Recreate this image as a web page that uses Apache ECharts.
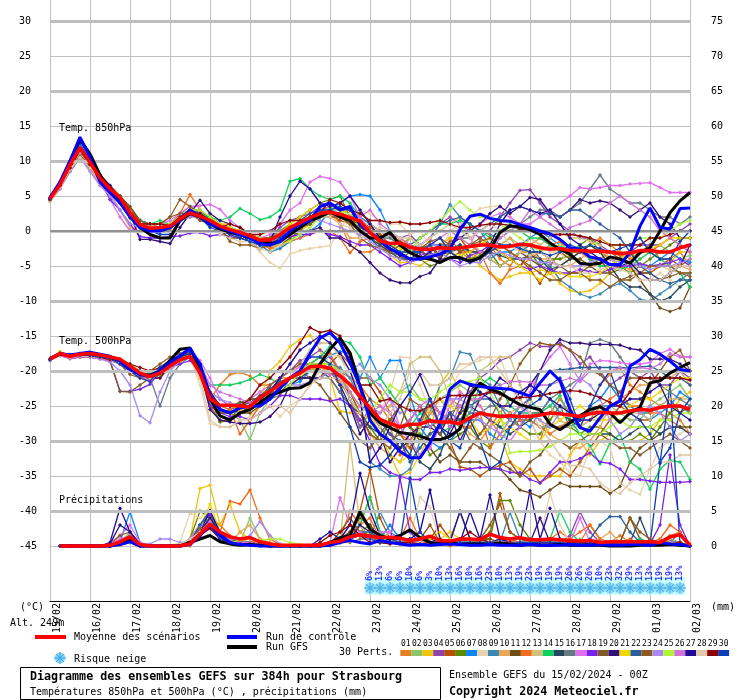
<!DOCTYPE html>
<html><head><meta charset="utf-8">
<style>html,body{margin:0;padding:0;background:#fff}#c{width:740px;height:700px}</style>
<script src="https://cdn.jsdelivr.net/npm/echarts@6/dist/echarts.min.js"></script>
</head><body><div id="c"></div>
<script>
const dayLabels=["15/02","16/02","17/02","18/02","19/02","20/02","21/02","22/02","23/02","24/02","25/02","26/02","27/02","28/02","29/02","01/03","02/03"];
const memberColors=["#e67e22","#8bc46a","#f1c40f","#8e44ad","#b9500a","#5d8a00","#0a84ff","#e8d4ab","#3a88b5","#e8a657","#6b4e16","#f26b1d","#d2c078","#10d060","#27475f","#6a7a85","#e06ff0","#7a20f0","#7f5a28","#32107a","#f2d600","#2a5d99","#8f5a1e","#a78bf0","#aef53a","#d070d8","#1f0a9a","#e0c8a8","#8b0000","#0b3db5"];
const snowPct=[6,13,6,6,10,6,3,10,13,16,10,16,23,10,13,19,23,19,19,19,26,26,26,10,23,32,29,13,13,19,19,13];

const mean850=[4.6,6.6,9.5,11.9,9.8,7.6,6,4.8, 2.6,.9,.4,.5,.7,1.7,2.6,2.1, 1.5,.7,.2,-.2,-.7,-1.3,-1.3,-.5, .5,1.2,1.9,2.5,2.7,2.4,1.9,1.4, -.2,-1.4,-1.8,-1.7,-2.3,-2.6,-2.6,-2.4, -2.5,-2.4,-2.2,-2,-2,-2.3,-2.2,-1.9, -2,-2.4,-2.6,-2.5,-2.8,-2.8,-2.9,-2.9, -3,-3.2,-3.1,-2.8,-2.8,-3,-3,-2.4, -2];
const control850=[4.8,7,10,13.4,10.5,7,5.5,4, 2,.5,0,0,.5,1.5,3,2, 1,.5,0,-.5,-1,-1.8,-2,-1.5, 0,1,1.5,3.5,4,3,3.5,.9, -.2,-1.4,-2.6,-3.2,-4,-4,-3.7,-3.3, -2.6,.2,2.1,2.4,1.8,1.5,1.4,.9, .5,0,-.4,-1.2,-2.4,-2.6,-3.7,-4, -4.8,-4.8,-3.1,.7,3.3,.5,.3,3.2, 3.3];
const gfs850=[4.7,6.8,10,13.1,11,8,6,4.5, 2.5,.5,-.5,-1,-1,1.5,2.5,2, 1,.3,-.2,-.5,-1,-1.5,-1.8,-1.5, -.5,.5,1.5,2,2.8,2,1.5,0, -1,-1,-.2,-2,-3.1,-3.8,-4,-4.5, -3.8,-3.8,-4.3,-3.8,-2.6,-.2,.7,.6, .2,-.5,-1.7,-2.6,-3.3,-4.6,-4.8,-4.6, -3.7,-4,-4.6,-3.1,-2.4,-.01,2.6,4.3, 5.5];
const t850=[
[4.5,6.5,9,11,9.5,7.5,6,4, 1.8,.8,.5,.3,.6,2.5,3.5,2.5, 1.5,.5,0,-.5,-1,-2,-2.5,-1, 0,1,2,3,3,1,-2,-3, -3,-2,-3,-2,-1,-2,-3,-2, -1,-3,-4,-3,-2,-4,-5,-3, -2,-1,-2,-3,-4,-3,-2,-1, -2,-3,-4,-3,-2,-4,-4,-3,-5],
[4.2,6,9,11.3,9.5,7.5,5.5,4.5, 2.5,1.5,1,1,1,2.5,3,2.5, 2,1,.5,0,-.5,-1,-2.5,-2.5, -1.5,0,1,2,3,3,2.5,1, 0,-1,-2,-3,-1,-2,-3,-2, -3,-4,-2,-3,-3,-2,-1,-2, -3,-3,-4,-4,-3,-3,-2,-3, -4,-4,-3,-3,-3,-2,-3,-4,-3.5],
[4.5,6.5,9.5,11.5,10,8,6,4.5, 2.5,1,.5,.5,1,2,2.5,2, 1.5,1,1,.5,-.5,-2,-3,-2.5, -1,0,1,3,3.5,3,2.5,1, -1,-2,-3.5,-4.5,-4.5,-5,-4,-2, -1,-1,-3,-5,-6,-7,-6.5,-6, -6,-5.5,-6,-7.5,-8.5,-8.8,-8.5,-7.5, -6,-5,-5.5,-6,-6,-5,-4.5,-3,-3],
[4.4,6.4,9,11.5,9.5,7.5,6,4.5, 3,1.5,1,1,1,2,3,2.5, 2,.5,0,0,-.5,-1,-1,.5, 1.5,2,2.5,3.5,4,3,3,2, 1,0,-.5,-1,-.5,-2,-1,1, 2,1,0,-1,0,2,4,5.8, 5.9,4,2,1,0,-1,-1,-2, -3,-3.5,-3,-2,-2,-2,-1,0,1],
[4.6,6.5,9.5,11.5,10,8,6.5,5, 3,1,.8,.5,.3,1.5,2.5,2.5, 1.5,1,.5,0,-.5,-1,-1,-.5, .5,1,1.5,2.5,2.5,1.5,1,1.5, .5,-.5,-2,-1.5,-2,-2.5,-4,-3, -1.5,-1,-3,-2,-1,-2,-3,-4, -5.5,-7.5,-5,-3,-4,-3,-2,-3, -3,-4,-5,-6,-6,-5,-4,-5,-4],
[4.3,6.2,9,11,9.5,7.5,5.5,4, 2,.5,.2,.3,.5,2,3,2.5, 2,.5,0,-.5,-1,-1.5,-1,0, 1,2,3,4,4.5,5,2,1, 0,-2,-3,-1,-2,-4,-5,-4.5, -3,-2,-4,-3.5,-3,-5,-4,-3, -3,-5,-4,-4,-3.5,-2,-1,-3, -4,-5,-6,-5,-4,-3,-2,-1,-1],
[4.6,6.8,9.8,12,10,7.5,5.5,4.5, 2.5,.8,.5,.3,1,2,3,3, 1.5,.5,0,-1,-1.5,-2,-3,-2.5, -1.5,-1,0,1,3,4,5,5.2, 5,3,0,-2,-3,-3,-2,-2, -3,-2,-3,-3,-4,-3,-3,-2, -1,0,-1,-2,-3,-3,-4,-5, -5,-4,-3,-5,-5,-4,-3,-4,-4.5],
[4.2,6.2,8.8,10.5,9,7,5.5,4.5, 2.5,1,.5,.5,.5,2,2.5,2, 1,0,-1,-1,-1.5,-3,-4.5,-5.3, -3.3,-2.8,-2.5,-2.3,-2.1,0,2.5,3, 2.5,1.5,1,1,-.5,0,-2,-3, 0,1,2,3.2,3.5,3.6,2,0, -1,-2,-3,-3,-5,-5.5,-5,-5, -4,-5,-5,-6,-7,-6,-7,-8,-7],
[4.4,6.4,9,11,9.5,7.5,6,5, 3,1.5,1,.5,.5,2,2.5,2, 1.5,.5,0,-.5,-1,-1.5,-2,-1, -.5,.5,1.5,2.5,3,2.5,2,2, 1,0,-1,-2,-2.5,-2,-1,1, 3.8,2,1,0,-2,-3,-4,-3, -2,-4,-5,-7,-8,-9,-9.5,-9, -8,-7.5,-8.5,-9.8,-10,-9,-8,-7,-6],
[4.4,6.3,9,11,9,6.5,5.5,3, .5,0,.5,1,1,2,2.5,2, 1.5,.5,.5,0,-.5,-1,-1.5,-1, 0,1,2,2.5,2.5,1,-1,-1, -2,-2.5,-2,-1,-2,-3,-4,-3, -2,-1,-2,-3,-3,-2,-1,-3, -3,-4,-4,-5,-5,-4,-3,-3, -4,-5,-5.5,-4,-3,-4,-5,-5,-5.5],
[4.3,6.3,9,11,9.5,8,6,5, 3.5,1.5,.8,.5,.5,1.5,2,2.5, 2,1,.5,0,-1,-1,-2,-2, -1,0,2,3,3.5,3,1.5,1, 0,-1.5,-2,-3,-3,-2.5,-2,-3.5, -3,-2.5,-2,-3,-4,-5,-4,-3, -4,-5,-6,-5,-4,-4,-5,-6, -6,-5.5,-5,-7,-9,-11,-11.5,-11,-8],
[4.7,6.8,9.5,11.5,9,7.5,6,4.5, 2,1,.8,.5,.5,2.5,5.2,3, 2,1,.5,0,-.5,-1.5,-2.5,-2, -1.5,-1,-.5,0,0,-1,-3.1,-1.5, -1,-2,-3,-3.5,-4.5,-4,-4,-3, -2,-3,-3,-3,-6,-7.5,-5.5,-5, -4,-3,-2,-1.5,-3,-3,-4,-4, -3,-3.5,-3.5,-3,-3,-2,-1,-2,-3],
[4.5,6.2,8.5,10.5,9,7.5,6,4.5, 2.5,1,1,1,1,2,2.5,2, 1.5,.5,0,-.5,-.5,-1,-2,-1, 0,1,2,3,3.5,4,3,1, 1,0,-1,-1,-3,-2,-1,0, 1,2,-1,-3,-4,-5,-4,-3, -1,-2,-1,0,-1,-1,-1.5,-2, -4,-4,-5,-5,-5,-5,-5.5,-6,-6],
[4.5,6.5,9.2,11.3,9.8,7.8,6,4.5, 2.5,1.5,1,1.5,1,2,2.5,2.5, 2,1.5,2,3.2,2.5,1.6,2,3, 7.1,7.5,6,5,4.5,5,4,2, 0,-1,-2,-3,-3,-1,0,1, 1,1.5,1,0,-1,0,1,0, -1,-1,-2,-3,-3,-2,-4,-5, -5,-5.5,-5,-4,-3,-4,-5,-6,-8],
[4.4,6.3,9,11,9.5,7.5,6,4, 2,.5,.5,.5,.5,2,2.5,2, 1,0,0,-.5,-1.5,-2.5,-2,-1, 0,.5,1,2,3,2,1.5,0, -1,-2,-3,-4,-4,-3,-3.5,-3, -2.5,-2,-3,-3,-3,-3.5,-4,-4, -3.5,-4,-5.5,-5,-4,-3,-2,-3, -5,-7,-8,-8,-9,-10,-9.5,-8,-7],
[4.5,6.5,9,11,9.5,7.5,6,4.5, 2.5,1,.5,.5,.5,1.5,2.5,2.5, 1.5,.5,0,-.5,-1,-1.5,-1.5,-1, .5,1,2,3,2.5,2,1,0, -1,-1,-1,-2,-2,-2.5,-3,-2, -2,-1,-1,0,-.5,-1,0,1, 2,3,3,2,3,4,6,8, 6,5,4,4,3,2,2,1,2],
[4.6,6.6,9.5,11.5,9.5,7,4.5,2, 0,.8,1,1,1.5,2.5,3.5,3.6, 3.8,3.1,1.5,.5,-.5,-1,-.5,1, 3,4,7,7.8,7.5,7,5,2, 0,-1,-2,-3,-3,-2,-1,-3, -4,-3,-2,1,2,2.5,2,1, 1,2,3,4,5,6.2,6,6.2, 6.5,6.5,6.7,6.8,6.9,6.2,5.5,5.5,5.5],
[4.5,6.5,9,11.5,9.5,7.5,4.5,3, 1,-.8,-1,-1,-.8,-.7,-.3,-.2, -.7,-.5,-.8,-1,-1.5,-2,-1.5,-1, -.8,-.5,-.5,0,-.5,-.8,-1.5,-2, -2,-3,-4,-5,-4.5,-3.5,-3,-4, -4,-4.5,-3.5,-3,-2,-3,-4,-5, -5.5,-5,-5.5,-6,-6,-5.5,-5.8,-6,-5.5, -5,-5,-4.7,-5,-4.8,-4.5,-4,-5],
[4.5,6.5,9,10.5,9,7.5,6,5, 3,1.5,1,1,2,2.5,2.5,1.5, 1,0,-1,-1,-1.5,-2,-2,-1.5, 0,.5,1,2,2.5,2,2,.5, -.5,-1.5,-3,-4,-3,-2.5,-2,-4, -4,-3,-2,-1,-2,-3,-4,-5, -3,-3,-4,-5,-6,-6,-5,-4, -6,-7,-6.5,-6,-6,-7,-6.5,-6,-6],
[4.6,6.7,9.5,11.8,10,8,6.5,4.5, 2.5,-1.2,-1.2,-1.5,-1.8,.5,2.5,4.4, 2.5,1.5,1,.5,-.5,-1,-1.5,-1, -.5,0,0,.5,-1,-1,-2,-3, -4.5,-6,-7,-7.4,-7.4,-6.5,-6,-4, -2,-1,0,1,2.5,3.5,2.5,3.5, 4.8,4.5,2.5,2,3,4.5,4,4.3, 4,3,2,3,4,2,1,-1,-1],
[4.5,6.3,9,11.2,9.5,7.5,6,4.5, 2.5,1,.5,.5,.5,2,2.5,2, 1.5,1,.5,0,-.5,-1,-1.5,-.5, 1,2,3,4,3.5,3,1,1, 0,-1,-2,-2.5,-3,-4,-3,-2, -3,-3.5,-3,-2,-1,-3,-4,-5, -6,-7,-6,-6,-6.5,-6.5,-6.5,-6, -5,-4,-3,-3,-2.5,-2,-1,-1,-1],
[4.6,6.6,9.5,11.5,9.5,7.5,5.5,4, 2,1,.5,.5,.5,2,3,2.5, 1.5,.5,0,-1,-1.5,-2,-2,-1, .5,1.5,2.5,3,3.5,4,3,1, -1,-2.5,-3,-3.5,-2,-1,0,1, 1.5,2,1,0,1,2,3,3.5, 3,2.5,2.5,2,3,3,2,1, 0,-1,-3,-5,-6,-7,-7.5,-7,-7],
[4.4,6.2,8.5,10.5,9,7.5,6,5, 3,1,1,1,2,4.5,3.5,2.5, 1.5,.5,-1.5,-2,-2,-2.5,-2,-1, 0,.5,1.5,2,2,2,1,-1, -2,-2.5,-3,-2,-2,-2.5,-1.5,-1, -2,-3,-2,-1.5,-1,-2,-3,-4, -5,-6,-7,-7,-6,-6,-7,-7, -8,-7,-7,-6,-5,-5,-5,-6,-6.5],
[4.3,6,8.5,10.5,8.5,6.5,5,3, 1,.5,.5,.5,1,1.5,2,2, 1,.5,0,-.5,-1,-1.5,-1.5,-1, -.5,.5,1.5,1.5,1,.5,0,-.5, -1.5,-2.5,-3.5,-4,-4.5,-4,-3.5,-3, -4,-5,-4.5,-4.5,-3.5,-3,-3.5,-4, -4,-4.5,-4.5,-5,-5,-5,-4.5,-4, -4,-4.5,-4.5,-5,-5.5,-5,-5,-4.5,-4],
[4.5,6.5,9.5,11.5,9.5,7.5,6,4.5, 2.5,1,.5,.5,1,2,3,3, 2,1,.5,0,-.5,-1,-2,-2, -1.5,-.5,.5,2,3.5,3,2,1, 0,-1,-2,-3,-3,-1,0,1.5, 3,4.2,3,2,2,1,0,-1, -2,-3,-2.5,-2,-2.5,-2.5,-2,-1.5, -2,-2,-2,-1,-1,-1,0,1,1.5],
[4.5,6.4,9,11.3,9.5,7.5,6,4.5, 2.5,1,.5,.5,.5,2,2.5,2, 1.5,.5,-.5,-.5,-1,-1.5,-1.5,-.5, 0,1,2,3,3.5,4,3,2, 3,1,0,-1,-2,-3,-2,-1, 0,-1,-2,-3,-3,-1,0,1, 3,2,1,0,.5,1,1.5,3, 4,5,4,3,2,0,-1,-2,-3],
[4.8,7,10,13,10.5,8,6,4.5, 2.5,.8,.3,.3,.5,2,3,2, 1,.2,-.3,-.5,-1,-1.5,-1.5,2, 5,7.1,6,4,3.5,4,5,3, 1,-1,-2.5,-3.5,-4,-4,-3,-2, -3,-4,-4.5,-4,-2,1,3,3.5, 3,2.5,3,1,-1,-2,-3,-4, -5,-5,-4.5,-6,-7,-7,-6,-5,-2],
[4.2,6.2,8.8,10.5,9,7.5,6,4.5, 2.8,1,.8,.5,.5,2,2.5,2, 1,-.5,-1,-1.5,-1.5,-2.5,-3,-2, -.5,.5,1.5,2,2,1,.5,-1, -.5,.5,0,-1,-1,-2,-1,0, 1,0,-1,0,1,0,-2,-3, -3.5,-3,-4,-5,-5,-6,-6,-5.5, -5,-5.5,-6,-7,-7,-7,-6,-5,-5],
[4.5,6.5,9,11.5,9.5,7.5,6,4.5, 2.5,1,1,1,.8,2,2.5,2.5, 1.5,.5,1,.5,-.5,-.5,0,1, 1.5,1.5,2,2.5,4.5,4,3,2.5, 1.5,1.5,1.2,1.3,1,1,1.2,1.5, 1,.5,.5,.8,1,1,.8,.3, 0,-.3,-.5,-.5,-.5,-.7,-1,-1.5, -2,-2,-2,-2,-1,-1,-.5,0,0],
[4.6,6.8,9.8,12.5,10,7.5,5.5,4, 2,.5,0,-.5,-.5,1.5,2.5,2, .5,0,-.5,-1,-1.5,-2,-2,-1, 0,1,2,3,3,3.5,3,1, 0,-1,-2,-3,-3,-3,-2,-1, -3,-4,-4.5,-4,-3,-2,-2,-2.5, -3,-3,-3.5,-3,-2,-2.5,-2,-2.5, -3,-2.5,-2,-1,-3,-4,-4,-1.5,0]
];

const mean500=[-18.3,-17.5,-17.9,-17.6,-17.5,-17.7,-18,-18.3, -19.3,-20.3,-20.8,-20.3,-19.3,-18.4,-17.9,-20.3, -24,-24.9,-24.9,-25,-25.1,-23.8,-22.9,-21.9, -21,-20.3,-19.4,-19.3,-19.6,-20.7,-21.9,-23.6, -25.3,-26.9,-27.5,-28,-27.6,-27.6,-27.1,-27.3, -27.3,-27.5,-26.7,-26,-26.3,-26.5,-26.4,-26.5, -26.5,-26.3,-26,-26.1,-26.3,-26.5,-26.1,-25.9, -26,-26,-25.7,-25.5,-25.6,-25.2,-25,-25,-25.5];
const control500=[-18.2,-17.5,-17.7,-17.5,-17.3,-17.6,-17.9,-18.6, -19.8,-20.5,-20.8,-20,-18.8,-17.8,-16.8,-19, -23.5,-25.5,-26,-25.3,-25,-25,-24,-22.5, -21,-20,-17.5,-15.3,-14.5,-16,-18.8,-22.2, -27,-29,-30,-31.5,-32.4,-32.4,-30.3,-27.4, -22.6,-21.4,-21.9,-22.2,-22.4,-22.5,-22.6,-23.1, -23.6,-21.7,-20,-21.4,-25.5,-28.1,-28.6,-26.7, -25,-24.3,-19.3,-18.4,-16.9,-17.6,-18.6,-19.8, -20];
const gfs500=[-18.2,-17.6,-17.8,-17.6,-17.4,-17.7,-18,-18.4, -19.5,-20.5,-20.6,-20,-18.5,-16.9,-16.7,-19.5, -24,-26.4,-27,-26,-25.5,-24.5,-23.5,-23, -22.5,-22.4,-21.7,-19,-16.9,-15.3,-17.4,-22.2, -26,-27.4,-28.1,-28.8,-29,-29.3,-29.8,-29.8, -29.3,-28.3,-23.6,-21.7,-22.6,-23.1,-24,-24.8, -25.2,-25.5,-27.6,-28.4,-27.4,-26.4,-25.5,-25.1, -26,-27.4,-26,-25.2,-21.7,-21.4,-20.3,-19.5, -18.8];
const t500=[
[-18.4,-17.6,-18,-17.6,-17.8,-17.9,-18.2,-18.5, -19,-20,-21,-21,-19.5,-18.5,-18,-21, -24,-22,-20.5,-20.2,-20.7,-22,-22,-21, -21,-20.5,-20,-20,-19.5,-20,-21,-22, -24,-25,-27,-29,-30,-28,-26,-27, -24,-25,-27,-30,-28,-26,-24,-25, -27,-30,-26,-24,-26,-28,-25,-22, -20.5,-19.5,-22,-23,-24,-25,-26,-27,-29],
[-18.3,-17.5,-17.8,-17.7,-17.7,-17.8,-18,-18.2, -19,-20,-20.5,-20,-19,-18,-17.8,-20, -24,-26,-26,-27,-29.8,-26,-24,-23, -22,-20,-19,-20,-20,-21,-22,-24, -27,-26,-25,-23,-22,-24,-25,-24, -23,-22,-23,-25,-27,-28,-27,-25, -24,-26,-25,-27,-28,-27,-26,-25, -25,-26,-27,-27,-25,-24,-23,-22,-24],
[-18.3,-17.2,-17.9,-17.8,-17.6,-17.9,-18.2,-18.6, -19.5,-20.5,-21,-20.5,-19,-18.5,-18,-19.5, -24,-25,-25,-26,-25,-24,-20,-18.6, -16.5,-15.5,-14.9,-17,-21,-25.7,-26,-25, -26,-29,-32,-35,-34.5,-32,-29,-22, -20,-23,-24,-25,-27,-29,-33,-34, -35,-35,-35,-35,-32,-30,-32,-30, -29,-30,-30,-30,-29,-27,-26,-24,-23],
[-18.4,-17.8,-18,-17.7,-17.8,-18,-18.3,-18.6, -19.5,-20,-20.5,-20,-19,-18,-17.5,-19, -23,-25,-25.5,-25,-25,-24,-23,-21, -20,-18.5,-18,-17,-18,-20,-24,-28, -25,-27,-29,-31,-30,-28,-24,-26, -27,-24,-23,-21,-20,-18.5,-18,-17, -16,-16.5,-16.5,-16,-17,-19,-18,-20, -22,-21,-20,-21,-20,-22,-22,-20,-21],
[-18.3,-17.7,-17.9,-17.7,-18,-18.2,-18.3,-19, -20,-21,-21.5,-20,-19,-18.5,-18,-20, -25,-27.2,-27,-26,-25,-24,-23,-22, -21,-20,-21,-21,-19,-17.5,-19,-21, -21,-23,-26,-29,-31,-28,-25,-28, -30,-33.7,-34,-35,-34,-33.5,-33,-35, -34,-36,-35,-34,-35,-33,-31,-29, -27,-25,-26,-27,-27,-25,-24,-26,-25],
[-18.5,-17.6,-18,-17.8,-17.9,-18,-18.4,-18.6, -20,-20.5,-21.5,-20.5,-19.5,-18.5,-18,-19.5, -24,-27.3,-27,-25,-24,-24,-24,-23.5, -21,-20,-19,-18,-19,-21,-24,-27, -28,-30,-27,-25,-28,-29,-32,-31, -30,-29,-28,-30,-31,-27,-26,-28, -29,-29,-27,-25,-28,-29,-28,-28, -29,-30,-30,-29,-30,-28,-26,-25,-26],
[-18.3,-17.5,-17.7,-17.6,-17.7,-17.8,-18.2,-18.5, -19.5,-20.5,-20.5,-19.5,-18.5,-17.8,-17.3,-19.5, -23,-24,-25,-25,-25,-24,-23,-23, -22,-21.5,-20,-19,-17.8,-17.2,-17.5,-21, -18,-21,-18.5,-18.5,-23.5,-28,-30,-31, -30,-28,-27,-27,-29,-30,-28,-27, -28,-26,-24,-26,-27,-27,-25,-24, -22,-24,-25,-26,-27,-26,-25,-23,-24],
[-18.4,-17.6,-18.1,-17.9,-18,-18.2,-18.5,-19, -20,-21,-21,-20,-19,-18.5,-18,-22, -27.5,-27.9,-28,-27,-26.5,-25,-25,-26.5, -25,-24,-22,-20,-17.7,-18,-21,-24, -27,-26,-23,-18,-18.1,-22,-26,-27, -23,-20,-19,-18.5,-18,-18,-22,-25, -27,-30,-32,-33,-34.5,-35,-31,-30, -31,-36,-37,-37.6,-34,-31,-30,-29,-28],
[-18.3,-17.6,-17.9,-17.7,-17.8,-17.9,-18.2,-18.5, -19.5,-20.5,-20.5,-20,-19,-18,-17.5,-19.5, -24,-25,-25,-25.5,-25,-24,-22.5,-22, -21,-20.5,-19.5,-19,-19,-19.5,-21,-24, -33,-34,-35,-35,-34,-30,-26,-22, -21,-17.3,-17.6,-21,-22,-25,-26,-27, -27,-28,-28,-28,-28,-27,-26,-25, -25,-24,-25,-26,-26,-25,-25,-25,-26],
[-18.4,-17.7,-18,-17.6,-17.8,-18,-18.3,-18.6, -19.5,-20,-20.5,-20,-19,-18.5,-18,-20, -24,-25,-25,-25,-24.5,-24,-23,-22, -21,-20.5,-20,-19.5,-20,-21.5,-24,-27, -29,-31,-32,-33,-30,-28,-26,-24, -26,-27,-29,-30,-28,-27,-26,-25, -26,-27,-29,-30,-31,-31,-30,-28, -25,-24,-23,-22,-22,-21,-21,-20,-22],
[-18.3,-17.6,-18,-17.8,-17.8,-18,-18.4,-18.8, -20,-21,-21,-20,-19,-18,-17.5,-20, -25,-26,-25.5,-26,-26,-25,-24,-22, -21,-20,-20,-19,-19,-20,-23,-26, -29,-30,-30,-31,-30,-30,-31,-33, -32,-33,-33,-33,-34,-34,-35.5,-37, -37.4,-38,-37,-36,-36.5,-36.5,-36.5,-36.5, -37.5,-36.5,-33,-31,-30,-29,-28,-28,-28],
[-18.3,-17.6,-17.8,-17.6,-17.8,-17.9,-18.2,-18.6, -19.5,-20.5,-21,-21,-19.5,-18.5,-18,-20, -24,-25,-25.5,-29,-27,-25,-23,-22, -21,-20,-19,-18,-17.5,-20,-22,-24, -25,-27,-28,-32,-30,-27,-25,-26, -27,-28,-28,-26,-31,-29,-28,-27, -27,-28,-29,-28,-27,-28,-27,-25, -24,-23,-25,-25,-26,-26,-27,-28,-29],
[-18.4,-17.5,-17.8,-17.7,-17.9,-18,-18.2,-18.7, -20,-21,-21.5,-20,-19,-18.5,-18,-19.5, -23.5,-25,-25,-25,-24,-23,-23,-22, -21,-19,-17,-16,-16,-18,-20,-23, -26,-26,-25,-23,-19,-18,-18,-20, -24,-26,-24,-20,-19,-18,-18,-22, -25,-26,-26,-27,-28,-28,-27,-27, -26,-26,-26,-26,-27,-25,-24,-24,-24],
[-18.4,-17.5,-17.9,-17.8,-17.8,-18,-18.3,-18.6, -19.5,-20,-20.5,-20,-19,-18,-17.8,-19.5, -22,-22,-22,-21.7,-21.2,-20.5,-21,-22, -21,-20,-19,-18,-16.5,-15.5,-16,-18, -22,-21,-23,-25,-28,-26,-27,-29, -28,-27.5,-26,-22,-21,-22,-25,-26, -26,-26,-25,-23.5,-27,-29,-30.7,-33.3, -30.3,-29,-33,-34,-36.9,-34,-32.8,-33,-35.5],
[-18.3,-17.6,-18,-17.7,-17.8,-18,-18.3,-18.5, -19.5,-20.5,-20.8,-20.3,-19.5,-18.5,-18,-20, -24,-25,-25,-24.5,-24.5,-24,-23,-22, -21,-21,-20,-20,-21,-23,-25,-26, -28,-29,-30,-31,-30,-33,-34,-32, -28,-26,-25,-26,-27,-28,-29,-28, -27,-26,-26,-26,-27,-28,-29,-29, -29,-30,-29,-28,-28,-29,-28,-28,-29],
[-18.4,-17.7,-18,-17.8,-18,-18.2,-18.4,-18.8, -20,-20.5,-21,-25,-21,-19,-18,-20, -24,-25,-25,-25,-25,-24,-23,-21.5, -21,-21,-21,-21,-21,-23,-25,-28, -26,-28,-30,-29,-27,-25,-28,-27, -26,-25,-26,-26,-25,-25,-27,-28, -26,-26,-24,-23,-22,-21,-16,-15.5, -16,-18,-20,-21,-21,-22,-23,-24,-25],
[-18.4,-17.5,-17.8,-17.6,-17.7,-17.9,-18.3,-19, -20,-21,-21.5,-20,-19,-18,-17.5,-18.5, -21,-24,-25,-25.5,-24,-23,-22,-21, -20,-19.5,-19,-19,-19.5,-20,-22,-24, -25,-26,-24,-28,-30,-32,-31,-28, -25,-23,-24,-25,-27,-29,-30,-28, -23,-20,-18,-16.5,-19,-21.5,-19,-18.5, -18.6,-18.8,-19,-19,-18.8,-17.5,-16.9,-17.9,-18],
[-18.4,-17.7,-18.2,-18,-18,-18.2,-18.6,-22.9, -22.9,-22.6,-21.9,-20,-19.5,-19,-18.5,-20, -25,-26,-26.5,-26.5,-27,-26,-25,-23.5, -23.5,-24,-24,-24,-24.3,-24,-25,-27, -30,-33.3,-34.5,-35,-35.5,-35.5,-34.5,-34.5, -34,-34.2,-34,-33.8,-33.8,-34,-34.5,-34.5, -35.5,-36,-34.5,-33,-33,-32.5,-31.7,-33, -33.2,-34,-35.5,-35.5,-35.7,-35.9,-35.9,-35.9,-35.8],
[-18.3,-17.8,-18.2,-18,-18,-18.2,-18.5,-22.9, -23,-22,-21,-20,-19,-18.5,-18,-20, -24,-25,-25,-24.5,-24,-24,-23,-23, -22,-21,-21,-22,-24,-26,-28,-30, -31,-29,-27,-25,-28,-30,-29,-28, -27,-27,-30,-31,-32,-33,-34,-35, -33,-32,-30,-30,-31,-30,-29,-29, -30,-31,-31,-32,-31,-30,-29,-30,-31],
[-18.4,-17.6,-17.9,-17.7,-17.8,-17.9,-18.2,-18.5, -19.5,-20.5,-21,-21,-19,-18.5,-18,-20, -25.5,-27,-27.3,-27.5,-27.5,-27.3,-26.5,-25, -22,-21,-21,-21,-20,-22,-25,-29, -27,-29,-33,-31,-29,-28,-28,-29, -26,-30,-27,-24,-23,-21,-22,-24, -22,-20,-17,-15.5,-16,-16,-16.2,-16.2, -16.2,-16.3,-16.8,-17,-18.3,-18.3,-18.3,-19,-20],
[-18.3,-17.5,-17.8,-17.6,-17.8,-18,-18.3,-18.6, -19.5,-20.5,-20.8,-20,-19,-18,-17.8,-20, -24,-25,-25,-25.5,-25,-24,-23,-22, -21,-20.5,-20,-19,-19,-21,-23,-26, -27,-29,-32,-33,-32,-28,-25,-24, -25,-26,-27,-29,-28,-27,-28,-29, -30,-30,-28,-27,-26,-25,-26,-27, -27,-26,-25,-24,-24,-23,-22,-21,-21],
[-18.3,-17.7,-18,-17.8,-17.8,-18,-18.2,-18.6, -19.5,-20,-20.5,-20,-19,-18.5,-18,-20, -24,-25,-25,-25,-24.5,-23.5,-22.5,-21.5, -21,-20,-20,-20,-20,-21,-24,-26, -24,-27,-29,-30,-33,-31,-29,-28, -26,-27,-25,-24,-24,-26,-27,-25, -24,-20,-20,-19.8,-19.7,-19.5,-19.5,-19.5, -19.5,-19.5,-19.6,-19.4,-19.3,-20,-21,-21,-22],
[-18.4,-17.5,-17.8,-17.6,-17.7,-18,-18.5,-19, -20.5,-21,-20,-19,-18,-17.5,-17.5,-19.5, -24,-26,-26,-25,-24.5,-24,-22,-21, -20,-19,-19,-19,-20,-22,-23,-26, -29,-30,-31,-28,-24,-25,-27,-29, -31,-33,-31,-29,-27,-24,-22,-19, -17,-16,-16.3,-16.2,-17,-18,-20,-20.5, -22,-23,-21,-21,-22,-20,-18,-17,-20],
[-18.5,-17.6,-18,-17.8,-18,-18.3,-18.7,-20, -22,-26.4,-27.4,-23,-20,-18.5,-18,-20, -23,-24,-24.5,-25,-25,-24,-23,-22, -22,-22,-21.5,-21,-20,-20,-20,-19, -21,-22,-24,-26,-25.5,-27,-28,-26, -24,-24,-25,-27,-28,-29,-27,-25, -26,-27,-28,-26,-23,-21,-22,-24, -27,-29,-28,-26,-25,-26,-28,-30,-29],
[-18.3,-17.6,-18,-17.8,-17.8,-18,-18.3,-18.7, -19.5,-20.5,-21,-20,-19,-18.5,-18,-20, -24,-25,-25,-25,-25,-24.5,-24,-23, -22,-20,-19,-19,-19,-20,-23,-25, -26,-24,-22,-23,-23,-24,-24,-23, -22,-21.5,-21.5,-21,-23,-26,-31.7,-31.5, -31.5,-31.3,-30.8,-30,-29,-29,-29,-29, -28,-27,-28,-28,-28,-27,-27,-26,-26],
[-18.4,-17.8,-18.2,-18,-18,-18.2,-18.5,-19, -19.5,-20.5,-21.5,-20,-19,-18,-17.5,-19, -22,-23,-23.5,-24,-24.5,-24,-23,-22, -21,-20,-20,-20,-20.5,-21,-23,-25, -26,-25,-26,-28,-27,-25,-24,-26, -28,-25,-24,-24,-22.5,-22,-21.5,-21.5, -21.6,-22,-22,-21.5,-21,-21.5,-20,-20,-20, -19.5,-20,-19.5,-19.7,-19,-17.5,-18,-18],
[-18.3,-17.5,-17.7,-17.5,-17.6,-17.8,-18.2,-18.5, -20,-20.5,-21,-20,-19,-18,-17,-19, -24,-25,-25,-25,-25,-24,-23,-21, -19,-17,-16,-15,-16,-17.5,-20,-24, -33,-31,-28,-25,-23,-20.5,-24,-28, -29,-26,-22,-23,-24,-25,-25,-23, -22,-23,-24,-25,-26,-27,-27,-26, -25,-25,-24,-24,-23,-22,-25,-26,-27],
[-18.3,-17.7,-18,-17.8,-17.9,-18,-18.4,-18.8, -20,-20.5,-21,-20,-19.5,-18.5,-18,-21, -27,-28,-28,-27,-27,-26,-25,-25, -26,-24,-22,-21,-21,-21,-24,-26, -25,-28,-26,-24,-20,-20,-22,-22, -21,-19,-19,-18,-18,-20,-22,-24, -26,-28,-30,-32,-33.5,-33.5,-34,-36, -37,-37.5,-36,-35,-34,-33,-33,-32,-32],
[-18.3,-17.6,-17.9,-17.7,-17.8,-18,-18.4,-18.6, -19,-19.5,-20,-19.5,-18.5,-18,-17.5,-19, -23,-25,-25,-25,-24,-22,-21,-19.5, -18,-16,-13.8,-14.5,-14.2,-15,-18,-22, -22,-24.3,-24,-25,-25.6,-25.7,-25,-24, -23.5,-23.5,-23.5,-23.4,-23,-23.3,-24,-23.8, -23.7,-23.5,-23.2,-23,-22.8,-22.9,-23.3,-23.8, -24.5,-25,-23,-21,-21,-21,-21,-21,-21.3],
[-18.4,-17.5,-17.7,-17.6,-17.8,-18,-18.2,-19, -20,-21,-21.5,-19.5,-18.5,-18,-17.5,-19, -24,-25.5,-26,-25,-25,-24,-23,-22, -21,-20,-18,-18,-19,-22,-28,-33, -33.8,-33.5,-32,-30,-32,-27,-24,-28, -30,-31,-27,-30,-34,-33,-28,-26, -25,-24,-22,-21,-24,-28,-25,-22, -20,-24,-26,-27,-29,-33,-31,-26,-24]
];

const meanPrecip=[null,0,0,0,0,0,.1,.6, 1.3,.2,0,0,0,0,.3,1.7, 3.1,2,1.3,1,1.2,.6,.3,.1, .1,.1,.1,.1,.5,.7,1.3,1.6, 1.4,1.2,1.2,1.1,.8,1,1.4,.8, .7,1,1,.9,1.7,1.2,1,1.2, .9,.9,1,.9,.8,.7,.8,.5, .6,.6,.6,.6,.6,.5,1.3,1.6,.15];
const controlPrecip=[null,0,0,0,0,0,0,.2, .6,0,0,0,0,0,.2,1.5, 3,1.5,.5,.2,.1,0,0,0, 0,0,0,0,.1,.5,.8,.5, .3,.8,.5,.3,.1,.2,.1,.2, .3,.2,.1,.1,.2,.1,.1,.1, .2,.1,.1,.1,.2,.1,.1,.2, .1,.1,.2,.2,.1,.5,.3,.2, 0];
const gfsPrecip=[null,0,0,0,0,0,0,.3, .8,0,0,0,0,0,.5,1, 1.5,.6,.3,.1,.2,.1,0,0, 0,0,0,0,.5,1.2,1.5,4.9, 2.4,1.5,1,1.5,2.3,1.2,.5,.3, .5,.2,.3,.3,.2,.4,.2,.1, .2,.1,.1,.2,.1,.1,.1,.1, 0,0,0,.1,.1,.1,.2,.1, 0];
const precip=[
[null,0,0,0,0,0,0,.3, 1.5,.2,0,0,0,0,0,2, 4,3,1.5,1,.5,1,.5,0, 0,0,0,0,.5,1,1,3, 7,2,1,.5,1,.5,.5,.5, 0,.5,.5,1,1,.5,1,.5, .5,.3,1,2,1,.5,3,1, .5,1.5,.5,.5,.5,.5,1.5,2,.2],
[null,0,0,0,0,0,.1,.5, 2,.3,0,0,0,0,.5,3, 5,2,.5,.5,4,1,.3,0, 0,0,0,0,.2,.5,1,2, 1,1,.5,.5,.5,.5,.3,.5, .5,.5,.5,.3,.5,.5,.5,.3, .5,.5,.5,.5,.3,1,.5,.5, .5,.3,.5,.5,.5,1,.5,.5,0],
[null,0,0,0,0,0,0,.1, .8,0,0,0,0,0,1,8.2, 8.7,3,6,2,1,.5,0,0, 0,0,0,0,0,.5,.5,1, 2,.5,.5,.2,.5,1,.5,1, 2,1,.5,.5,.3,.5,.3,.3, .5,.2,.5,.5,.3,.5,.5,.3, .5,.3,.3,.5,.2,.5,.5,.3,0],
[null,0,0,0,0,0,0,.5, 1,.2,0,0,0,0,.5,2, 3,1.5,1,.5,.5,.3,0,0, 0,0,0,0,.3,1,2,3, 1,.5,.5,.3,.5,.5,.3,.5, .5,1,.5,.5,.3,1,.5,.3, 1,.5,1,.5,1.5,4.9,2,.5, .5,.3,.5,.5,.3,.5,.5,2,0],
[null,0,0,0,0,0,.1,.8, 1.5,.3,0,0,0,0,1,3, 4,2,1,.5,.3,.3,0,0, 0,0,0,0,.5,1,2,5, 10.9,4,1,.5,.5,.5,1,3, 1,.5,.5,.5,1,7.5,2,1, .5,.5,.3,.5,.5,.3,.5,.3, .5,.5,.5,.3,.5,.5,.3,.5,0],
[null,0,0,0,0,0,0,.3, .7,0,0,0,0,0,1,5, 4,2,.5,.3,.3,.3,0,0, 0,0,0,0,.2,1,1,2, 3,1,.5,.3,.5,.5,.3,.3, .5,.5,.5,.5,2,6.5,6.5,3, 1,.5,.5,.3,.5,.5,.5,.3, .5,.5,.3,.3,.5,.5,.3,.3,0],
[null,0,0,0,0,0,.1,.6, 4.9,.5,0,0,0,0,.2,2, 3,1,.5,.3,.2,.1,0,0, 0,0,0,0,.2,.5,1.5,2, 1,1,3,1,.5,.3,.5,.3, .3,.5,.5,.5,.5,1,.5,.5, .3,.5,.3,.5,.3,.5,.5,.3, .3,.5,.3,.3,.3,.5,1,.5,0],
[null,0,0,0,0,0,0,.2, .5,0,0,0,0,.5,4.7,4, 5,1.5,1,.5,.3,.1,0,0, 0,0,0,0,0,.5,1,2, 2,1,1,.5,1,7,5.5,.5, .3,.5,.5,.5,.5,.5,.5,.5, .5,1,7.5,3,.5,.5,.3,.3, .5,.3,.5,.5,.3,.5,.3,.5,0],
[null,0,0,0,0,0,0,.5, 1,.2,0,0,0,0,1,3, 5,1.5,1,.5,.5,.2,0,0, 0,0,0,0,.3,.8,2,3, 1,4.9,2,1,.5,.5,.3,.3, 1,4.8,1,.5,.5,.5,4.8,1, .5,.5,.5,.3,.5,.5,.5,.3, .5,.5,.3,.5,.3,.5,.5,.3,0],
[null,0,0,0,0,0,0,.3, 1,.1,0,0,0,0,.5,2, 4,2,.5,2,3,1,.2,0, 0,0,0,0,.2,.5,1.5,3, 1,1,2,.5,1,.5,.5,.5, .5,.5,.5,.5,.5,.5,.5,.5, .3,.5,.5,.3,.5,.5,.5,1, 2,.5,.5,.5,.5,.3,1,.5,0],
[null,0,0,0,0,0,.1,.5, 1.5,.2,0,0,0,0,.3,2, 3,1.5,1,.5,.5,.2,0,0, 0,0,0,0,.5,1,2,4, 3,1,.5,.5,.5,.5,.5,.5, .5,.5,.5,1,1,.5,.5,.5, .5,.5,.5,.5,.5,.3,.5,.5, .5,.5,4,1,.5,.5,.5,.3,0],
[null,0,0,0,0,0,0,.1, .5,0,0,0,0,0,.2,2, 4,2,6.4,6,8,4,1,.2, 0,0,0,0,.3,1,5,3, 4,1,.5,1,4,1,.5,.5, .5,.5,1,.5,.5,1,1,.5, .5,.5,.5,.5,1,2,3,1, .5,.5,1,.5,.5,1,3,2,0],
[null,0,0,0,0,0,0,.2, .6,0,0,0,0,.3,1,3, 5,1,.5,.3,.5,0,0,0, 0,0,0,0,0,.5,14.7,3, 1,.5,.5,.3,.5,.5,.3,.3, .5,.5,.3,.5,.5,.3,.5,.3, .5,.5,.3,.5,.5,.5,.5,.3, .5,.5,.5,.3,.5,.5,.5,.3,0],
[null,0,0,0,0,0,.1,.4, 1,.1,0,0,0,0,1,3, 4,1,.5,.5,.2,.3,.3,.2, 0,0,0,0,.2,1,1,3, 7,2,.5,1,1,.5,.5,.3, .3,.5,.5,.5,.5,1,1,1, .5,.5,1,5,2,.5,.5,.5, .5,.3,.5,1,.5,.5,.5,.5,0],
[null,0,0,0,0,0,0,.3, 1,.2,0,0,0,0,.5,2, 3,1,.5,.3,.3,.2,0,0, 0,0,0,0,.3,.5,1,2, 1.5,1,.5,.5,.5,.5,.5,.5, .5,.5,.5,.5,.5,.5,.5,.5, .5,.5,.5,.5,.5,.3,.5,.5, .5,.5,.5,4,.5,.5,.5,.5,0],
[null,0,0,0,0,0,0,.3, .8,.1,0,0,0,0,1,2, 4,2,.5,.5,.3,.1,0,0, 0,0,0,0,.3,1,.5,1, 1,.5,.5,.3,.5,.3,.5,.3, .3,.5,.3,.5,.5,.3,.3,.5, .3,.5,.3,.5,.3,.5,.5,.3, .5,.5,.3,.5,.3,.5,.3,.5,0],
[null,0,0,0,0,0,.5,1.5, 3,.5,0,0,0,0,1,3, 5,1.5,1,.5,.5,.2,0,0, 0,0,0,0,.5,6.9,3,2, 1,2,2,.5,.5,.5,.5,.5, .5,.5,.5,.5,.5,.5,.5,.5, .5,.5,.5,.5,.5,4,.5,.5, .5,.5,.5,.5,.5,.5,.5,.5,0],
[null,0,0,0,0,0,0,.2, .5,0,0,0,0,0,.3,3, 4.5,1,.5,.3,.2,.1,0,0, 0,0,0,0,.1,.5,1,2, 1,.5,.5,9.7,2,.5,.5,.5, .5,.5,.5,.3,.5,.5,.3,.5, .5,.5,.3,.5,.5,.3,.5,.5, .5,.3,.5,.5,.3,3,13,3,0],
[null,0,0,0,0,0,.1,.6, 1.2,.1,0,0,0,0,.5,2, 3.5,1.5,.5,.5,.5,.2,0,0, 0,0,0,0,.3,1,1.5,2, 1,.5,.5,.5,.5,.3,.5,.5, .5,1,.5,.3,.5,.5,.5,.5, .3,.5,.5,.5,.3,.5,.5,.5, .5,.3,.5,.5,.5,.3,.5,.5,0],
[null,0,0,0,0,0,.3,3, 2,.3,0,0,0,0,.5,2, 4,2,.5,.3,.3,.1,0,0, 0,0,0,0,.3,1,1,3, 2,1,.5,.5,.3,.5,1,.5, .5,5,1,.5,.5,1,.5,.5, .5,4,.5,.5,.5,.5,.5,.3, .5,.3,.5,.5,.3,.5,.3,.3,0],
[null,0,0,0,0,0,0,.2, .5,0,0,0,0,0,.3,2.5, 6,2,1,.5,.3,.1,0,0, 0,0,0,0,.2,.5,1,2, 1,.5,.5,.3,.5,.5,1,2, 1,.5,.5,.5,.5,.5,.5,.5, .5,.5,.5,.5,.3,.5,.5,.3, .5,.3,.5,.3,.5,.5,.5,.3,0],
[null,0,0,0,0,0,0,.4, 1,.2,0,0,0,0,.5,3, 5,1.5,1,.5,.5,.2,0,0, 0,0,0,0,.3,.8,1,2, 2,1,.5,.5,1,.5,.5,.5, .5,.5,.5,.5,.5,.5,.5,.5, .5,.5,.5,.5,.5,.5,1,3, 4.2,4.2,2,.5,.5,.5,.5,.5,0],
[null,0,0,0,0,0,.2,1.5, 2,.3,0,0,0,0,.5,2.5, 3,1,.5,.3,.5,.2,0,0, 0,0,0,0,.3,2,4,2, 1,1,.5,.5,.5,1,3,.5, .5,.5,.5,1,3,6,2,1, .5,.5,.5,.5,.5,.5,.5,.3, .5,.5,4,2,1,.5,.5,.5,0],
[null,0,0,0,0,0,.2,.6, 1,.4,.3,1,1,.5,.5,2, 3,1.5,1,1,1.5,3.5,1.5,.3, 0,0,0,0,.2,.5,1,2, 1,.5,.5,.5,.5,.5,.5,.5, .5,.5,.5,.5,.5,.5,.5,.5, .5,.5,.5,.5,.5,.5,.5,.5, .3,.5,.5,.5,.5,.5,.5,.5,0],
[null,0,0,0,0,0,.1,.3, .5,.2,0,0,0,.1,.5,1.5, 3,1,.5,.8,1,.8,1,1, .5,.2,0,0,.2,.5,1,1.5, 1,.5,.5,.5,.5,.5,.3,.5, .5,.5,.5,.5,.5,.5,.5,.5, .5,.5,.5,.5,.5,.5,.5,.5, .5,.5,.5,.5,.5,.5,.5,.5,0],
[null,0,0,0,0,0,.3,1, 1.5,.2,0,0,0,0,.5,2, 3.5,1,.5,.5,.5,.2,0,0, 0,0,0,0,.3,.8,1,2, 1,.5,.5,.5,.5,.5,.5,.5, .5,.5,.5,.5,.5,.5,.5,.5, .5,.5,.5,.5,.5,.5,.5,.5, .5,.5,.5,.5,.5,.5,.5,.5,0],
[null,0,0,0,0,0,.5,5.4, 2,.2,0,0,0,0,.5,2, 5,2,.5,.3,.3,.1,0,0, 0,0,0,1,2,1,3,10.4, 5,1.5,1,1,1,2,8,1, .5,.5,4.9,1,7.3,1,.5,.5, 7.9,1,5.4,1,.5,.5,.5,.3, .5,.5,.5,.5,.5,.5,.5,.5,0],
[null,0,0,0,0,0,0,.2, .6,0,0,0,0,.2,1,2, 3,1,.5,.3,.3,.1,0,0, 0,0,0,0,.2,.5,1,1.5, 1,.5,.5,.5,.5,.5,.5,.5, .5,.5,.5,.5,.5,.5,.5,.5, .5,.5,.5,.5,.5,.5,.5,.5, .5,.5,.5,.5,.5,.5,.5,.5,0],
[null,0,0,0,0,0,0,.3, .8,.1,0,0,0,0,.5,1.5, 2.5,1,.5,.3,.3,.1,0,0, 0,0,0,.5,1.5,2,3,1.5, .5,.5,.3,.5,.5,.3,.5,.5, .5,1,2,1,.5,.5,.5,.3, .3,.5,.5,.3,.5,.5,.3,.5, .3,.5,.5,.3,.5,.5,.3,.5,0],
[null,0,0,0,0,0,0,.2, .8,.1,0,0,0,0,.3,1.5, 3,1,.5,.3,.2,.1,0,0, 0,0,0,0,.2,.5,1,1.5, 1,.5,1,.5,9.7,2,.5,.3, .5,.5,.5,.5,.5,.5,.3,.5, .5,.5,.5,.5,.3,.5,.5,.5, .5,.3,.5,.3,.2,11.8,23,.1,0]
];

const FONT='"DejaVu Sans Mono"';
const FLAKE='path://M11 0h2v24h-2z M0 11h24v2H0z M3 4.4 L4.4 3 L21 19.6 L19.6 21z M19.6 3 L21 4.4 L4.4 21 L3 19.6z';
const slotLabels=Array.from({length:65},(_,i)=>i%4===0?dayLabels[i/4]:'');

function lineSeries(name,values,yAxisIndex,color,width,z,marker){
  return {name,type:'line',xAxisIndex:1,yAxisIndex,data:values,z,clip:false,animation:false,silent:true,
    symbol:marker?'diamond':'none',symbolSize:marker?4:0,showSymbol:!!marker,
    lineStyle:{color,width},itemStyle:{color},connectNulls:false,legendHoverLink:false};
}
const series=[];
series.push({type:'line',xAxisIndex:1,yAxisIndex:1,data:[],z:1,silent:true,animation:false,
  markLine:{silent:true,symbol:'none',animation:false,label:{show:false},
    data:[...[-40,-30,-20,-10,10,20,30].map(v=>({yAxis:v,lineStyle:{color:'#bfbfbf',width:3,type:'solid'}})),
      {yAxis:0,lineStyle:{color:'#c4c4c4',width:3,type:'solid'}},
      {yAxis:.1,lineStyle:{color:'#808080',width:1.5,type:'solid'}}]}});
memberColors.forEach((c,k)=>{
  series.push(lineSeries('P'+k,t850[k],1,c,1.3,3,true));
  series.push(lineSeries('T'+k,t500[k],1,c,1.3,3,true));
  series.push(lineSeries('R'+k,precip[k],2,c,1.3,3,true));
});
[[gfs850,gfs500,gfsPrecip,'#000000',6],[control850,control500,controlPrecip,'#0000ff',7],[mean850,mean500,meanPrecip,'#ff0000',8]].forEach(([a,b,p,c,z])=>{
  series.push(lineSeries('a'+z,a,1,c,z===8?3.5:3,z,false));
  series.push(lineSeries('b'+z,b,1,c,z===8?3.5:3,z,false));
  series.push(lineSeries('c'+z,p,2,c,z===8?3.5:3,z,false));
});
const snowData=snowPct.map((p,k)=>[32+k,13]);
series.push({type:'scatter',xAxisIndex:0,yAxisIndex:0,data:snowData,symbol:'circle',symbolSize:11,z:9,silent:true,animation:false,clip:false,
  itemStyle:{color:'#86d6f6'}});
series.push({type:'scatter',xAxisIndex:0,yAxisIndex:0,data:snowData,symbol:FLAKE,symbolSize:12,z:10,silent:true,animation:false,clip:false,
  itemStyle:{color:'#3aa6e6'},
  label:{show:true,position:'top',distance:1,rotate:90,align:'left',verticalAlign:'middle',fontFamily:FONT,fontSize:8.5,fontWeight:'bold',color:'#0000ff',
    formatter:p=>snowPct[p.dataIndex]+'%'}});

function t(x,y,text,o={}){
  return {type:'text',x,y,z:20,silent:true,style:{text,fill:'#000',font:(o.bold?'bold ':'')+(o.size||10)+'px '+FONT,textVerticalAlign:'middle',textAlign:o.align||'left'}};
}
function bar(x,y,w,h,fill){return {type:'rect',z:20,silent:true,shape:{x,y,width:w,height:h},style:{fill}};}
function seg(x1,y1,x2,y2){return {type:'line',z:21,silent:true,shape:{x1,y1,x2,y2},style:{stroke:'#3aa6e6',lineWidth:1}};}
const graphic=[
  {type:'rect',z:1,silent:true,shape:{x:365,y:577,width:320,height:18},style:{fill:'#ccffff'}},
  t(59,128,'Temp. 850hPa'),t(59,341,'Temp. 500hPa'),t(59,500,'Précipitations'),
  t(20,607,'(°C)'),t(10,623,'Alt. 249m'),t(711,607,'(mm)'),
  bar(35,635,31,4,'#ff0000'),t(74,637,'Moyenne des scénarios'),
  bar(227,635,30,4,'#0000ff'),t(266,637,'Run de contrôle'),
  bar(227,645,30,4,'#000000'),t(266,647,'Run GFS'),
  {type:'circle',z:20,silent:true,shape:{cx:60,cy:658,r:5.5},style:{fill:'#86d6f6'}},
  seg(60,652,60,664),seg(54,658,66,658),seg(56,654,64,662),seg(64,654,56,662),
  t(74,659,'Risque neige'),t(339,652,'30 Perts.'),
  {type:'rect',z:20,silent:true,shape:{x:20.5,y:667.5,width:420,height:32},style:{fill:'#fff',stroke:'#000',lineWidth:1}},
  t(30,677,'Diagramme des ensembles GEFS sur 384h pour Strasbourg',{bold:true,size:11.66}),
  t(30,692,'Températures 850hPa et 500hPa (°C) , précipitations (mm)'),
  t(449,675,'Ensemble GEFS du 15/02/2024 - 00Z'),
  t(449,692,'Copyright 2024 Meteociel.fr',{bold:true,size:11.66})
];
memberColors.forEach((c,k)=>{
  graphic.push(bar(400.3+k*10.96,650,10.96,6,c));
  graphic.push(t(405.8+k*10.96,644,String(k+1).padStart(2,'0'),{size:8,align:'center'}));
});

const chart=echarts.init(document.getElementById('c'),null,{renderer:'canvas'});
chart.setOption({
  animation:false,backgroundColor:'#fff',
  grid:[{left:50,top:0,width:640,height:601},{left:50,top:21,width:640,height:525}],
  xAxis:[
    {type:'category',gridIndex:0,data:slotLabels,boundaryGap:false,
     axisLine:{show:true,lineStyle:{color:'#000',width:1}},axisTick:{show:false},
     axisLabel:{show:true,interval:3,showMaxLabel:true,rotate:90,align:'right',verticalAlign:'top',margin:2,padding:[2,0,0,0],fontFamily:FONT,fontSize:10,color:'#000'},
     splitLine:{show:true,interval:3,lineStyle:{color:'#bfbfbf',width:1}}},
    {type:'category',gridIndex:1,data:slotLabels,boundaryGap:false,show:false}
  ],
  yAxis:[
    {type:'value',gridIndex:0,min:0,max:601,show:false,splitLine:{show:false}},
    {type:'value',gridIndex:1,min:-45,max:30,interval:5,position:'left',
     axisLine:{show:false},axisTick:{show:false},
     axisLabel:{align:'left',margin:31,padding:[3,0,0,0],fontFamily:FONT,fontSize:10,color:'#000',formatter:v=>v>=0?String(v).padStart(2,' '):String(v)},
     splitLine:{show:true,lineStyle:{color:'#bfbfbf',width:1}}},
    {type:'value',gridIndex:1,min:0,max:75,interval:5,position:'right',
     axisLine:{show:false},axisTick:{show:false},
     axisLabel:{align:'left',margin:21,padding:[3,0,0,0],fontFamily:FONT,fontSize:10,color:'#000'},
     splitLine:{show:false}}
  ],
  series,graphic
});
</script></body></html>
